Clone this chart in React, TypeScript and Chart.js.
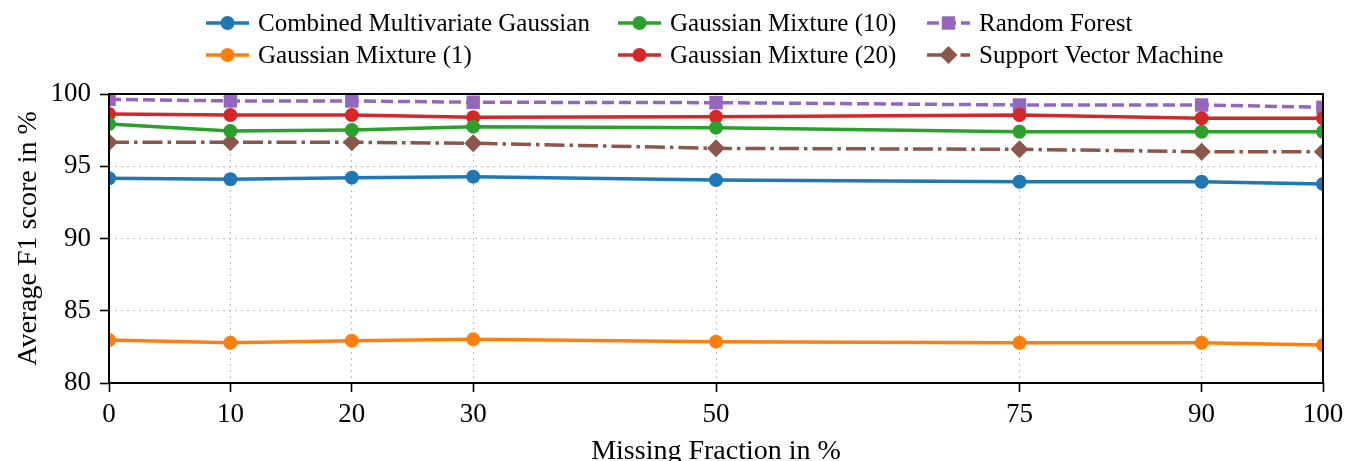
import React, { useEffect, useRef } from 'react';
import { Chart, registerables } from 'chart.js';

Chart.register(...registerables);

// ---- data ----
const missingFraction = [0, 10, 20, 30, 50, 75, 90, 100];
const xTickValues = [0, 10, 20, 30, 50, 75, 90, 100];
const yTickValues = [80, 85, 90, 95, 100];

const combinedMultivariateGaussian = [94.17, 94.1, 94.21, 94.28, 94.05, 93.93, 93.93, 93.77];
const gaussianMixture1 = [82.98, 82.79, 82.93, 83.02, 82.86, 82.79, 82.79, 82.63];
const gaussianMixture10 = [97.92, 97.44, 97.51, 97.74, 97.67, 97.39, 97.39, 97.39];
const gaussianMixture20 = [98.62, 98.55, 98.55, 98.39, 98.43, 98.55, 98.32, 98.32];
const randomForest = [99.63, 99.52, 99.52, 99.43, 99.4, 99.24, 99.24, 99.08];
const supportVectorMachine = [96.66, 96.66, 96.66, 96.59, 96.24, 96.17, 96.01, 96.01];

const seriesLabels = [
  'Combined Multivariate Gaussian',
  'Gaussian Mixture (1)',
  'Gaussian Mixture (10)',
  'Gaussian Mixture (20)',
  'Random Forest',
  'Support Vector Machine',
];

const xTitle = 'Missing Fraction in %';
const yTitle = 'Average F1 score in %';

const FONT = "'Liberation Serif', 'Times New Roman', serif";

type Style = { color: string; pointStyle: string; radius: number; dash: number[] };
const styles: Style[] = [
  { color: '#1f77b4', pointStyle: 'circle', radius: 7, dash: [] },
  { color: '#ff7f0e', pointStyle: 'circle', radius: 7, dash: [] },
  { color: '#2ca02c', pointStyle: 'circle', radius: 7, dash: [] },
  { color: '#d62728', pointStyle: 'circle', radius: 7, dash: [] },
  { color: '#9467bd', pointStyle: 'rect', radius: 9.5, dash: [12, 5] },
  { color: '#8c564b', pointStyle: 'rectRot', radius: 9, dash: [20, 5, 3.5, 5] },
];

const seriesValues = [
  combinedMultivariateGaussian,
  gaussianMixture1,
  gaussianMixture10,
  gaussianMixture20,
  randomForest,
  supportVectorMachine,
];

function drawMarker(ctx: CanvasRenderingContext2D, style: string, r: number, x: number, y: number) {
  ctx.beginPath();
  if (style === 'circle') {
    ctx.arc(x, y, r, 0, Math.PI * 2);
  } else if (style === 'rect') {
    const s = r * Math.SQRT1_2;
    ctx.rect(x - s, y - s, 2 * s, 2 * s);
  } else {
    ctx.moveTo(x - r, y);
    ctx.lineTo(x, y - r);
    ctx.lineTo(x + r, y);
    ctx.lineTo(x, y + r);
    ctx.closePath();
  }
  ctx.fill();
}

const legendPlugin = {
  id: 'mplLegend',
  afterDraw(chart: any) {
    const ctx: CanvasRenderingContext2D = chart.ctx;
    const columnX = [206, 618, 927];
    const rowY = [23, 55];
    const handleLen = 43;
    const textGap = 9;
    ctx.save();
    for (let i = 0; i < seriesLabels.length; i++) {
      const col = Math.floor(i / 2);
      const row = i % 2;
      const x0 = columnX[col];
      const y = rowY[row];
      const st = styles[i];
      ctx.strokeStyle = st.color;
      ctx.fillStyle = st.color;
      ctx.lineWidth = 3.5;
      ctx.setLineDash(st.dash);
      ctx.beginPath();
      ctx.moveTo(x0, y);
      ctx.lineTo(x0 + handleLen, y);
      ctx.stroke();
      ctx.setLineDash([]);
      drawMarker(ctx, st.pointStyle, st.radius, x0 + handleLen / 2, y);
      ctx.fillStyle = '#000';
      ctx.font = `25px ${FONT}`;
      ctx.textBaseline = 'middle';
      ctx.textAlign = 'left';
      ctx.fillText(seriesLabels[i], x0 + handleLen + textGap, y + 1);
    }
    ctx.restore();
  },
};

const framePlugin = {
  id: 'frame',
  afterDatasetsDraw(chart: any) {
    const { ctx, chartArea } = chart;
    ctx.save();
    ctx.strokeStyle = '#000';
    ctx.lineWidth = 2;
    ctx.strokeRect(chartArea.left, chartArea.top, chartArea.right - chartArea.left, chartArea.bottom - chartArea.top);
    ctx.restore();
  },
};

export default function App() {
  const canvasRef = useRef<HTMLCanvasElement | null>(null);

  useEffect(() => {
    if (!canvasRef.current) return;
    const datasets = seriesLabels.map((label, i) => ({
      label,
      data: missingFraction.map((x, j) => ({ x, y: seriesValues[i][j] })),
      borderColor: styles[i].color,
      backgroundColor: styles[i].color,
      borderWidth: 3.5,
      borderDash: styles[i].dash,
      pointStyle: styles[i].pointStyle,
      pointRadius: styles[i].radius,
      pointHoverRadius: styles[i].radius,
      pointBorderWidth: 0,
      pointBackgroundColor: styles[i].color,
      pointBorderColor: styles[i].color,
      tension: 0,
      clip: 0,
    }));

    const chart = new Chart(canvasRef.current, {
      type: 'line',
      data: { datasets } as any,
      options: {
        responsive: false,
        animation: false,
        events: [],
        layout: { padding: { top: 94, right: 23, left: 0, bottom: 0 } },
        plugins: {
          legend: { display: false },
          tooltip: { enabled: false },
        },
        scales: {
          x: {
            type: 'linear',
            min: 0,
            max: 100,
            afterBuildTicks: (axis: any) => {
              axis.ticks = xTickValues.map((v) => ({ value: v }));
            },
            afterFit: (scale: any) => {
              scale.height = 78;
              scale.paddingLeft = 0;
              scale.paddingRight = 0;
            },
            ticks: {
              autoSkip: false,
              maxRotation: 0,
              padding: 7,
              color: '#000',
              font: { family: FONT, size: 27 },
              callback: (v: any) => String(v),
            },
            grid: {
              color: '#bdbdbd',
              lineWidth: 1,
              drawTicks: true,
              tickLength: 9,
              tickColor: '#000',
              tickWidth: 1.6,
              tickBorderDash: [],
            },
            border: { display: false, dash: [2, 4] },
            title: {
              display: true,
              text: xTitle,
              color: '#000',
              font: { family: FONT, size: 28 },
              padding: { top: 0, bottom: -7 },
            },
          },
          y: {
            type: 'linear',
            min: 80,
            max: 100,
            afterBuildTicks: (axis: any) => {
              axis.ticks = yTickValues.map((v) => ({ value: v }));
            },
            afterFit: (scale: any) => {
              scale.width = 109;
              scale.paddingTop = 0;
              scale.paddingBottom = 0;
            },
            ticks: {
              padding: 9,
              color: '#000',
              font: { family: FONT, size: 27 },
              callback: (v: any) => String(v),
            },
            grid: {
              color: '#bdbdbd',
              lineWidth: 1,
              drawTicks: true,
              tickLength: 9,
              tickColor: '#000',
              tickWidth: 1.6,
              tickBorderDash: [],
            },
            border: { display: false, dash: [2, 4] },
            title: {
              display: true,
              text: yTitle,
              color: '#000',
              font: { family: FONT, size: 28 },
              padding: { top: 12, bottom: 0 },
            },
          },
        },
      } as any,
      plugins: [legendPlugin, framePlugin],
    });
    return () => chart.destroy();
  }, []);

  return (
    <div style={{ position: 'absolute', left: 0, top: 0, width: 1346, height: 461, background: '#fff' }}>
      <canvas ref={canvasRef} width={1346} height={461} style={{ display: 'block' }} />
    </div>
  );
}
